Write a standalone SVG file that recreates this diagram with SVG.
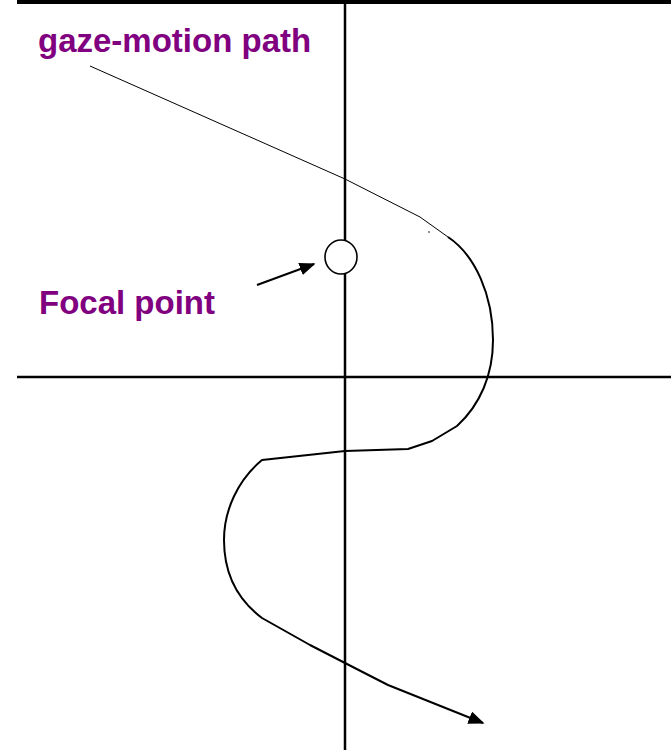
<svg xmlns="http://www.w3.org/2000/svg" width="671" height="750" viewBox="0 0 671 750">
<defs>
<style>
.axis{stroke:#000;stroke-width:2.5;fill:none}
.thin{stroke:#000;stroke-width:1;fill:none}
.path{stroke:#000;stroke-width:2;fill:none;stroke-linejoin:round}
.lbl{font-family:"Liberation Sans",Arial,sans-serif;font-weight:bold;font-size:33px;fill:#800080}
</style>
<marker id="ah" viewBox="0 0 10 10" refX="9" refY="5" markerWidth="8" markerHeight="6.5" markerUnits="strokeWidth" orient="auto" preserveAspectRatio="none">
<path d="M0,0 L10,5 L0,10 Z" fill="#000"/>
</marker>
</defs>
<rect x="17" y="0" width="654" height="4" fill="#000"/>
<g id="axes">
<line class="axis" x1="345" y1="4" x2="345" y2="750"/>
<line class="axis" x1="17" y1="377" x2="671" y2="377"/>
</g>
<g id="connectors">
<polyline class="thin" points="90,66 345,179 420,217 448,237"/>
<circle cx="429" cy="232" r="0.8" fill="#000"/>
<path class="path" marker-end="url(#ah)" d="M448,237 C475,255 493,295 493,340 C493,375 480,405 457,426 L432,441 L408,449 L345,451 L262,460 C238,480 224,510 224,540 C224,575 238,600 262,618 L310,645 L345,663 L388,685 L483,723"/>
<line class="path" x1="257" y1="285" x2="314" y2="264" marker-end="url(#ah)"/>
</g>
<g id="focal">
<ellipse cx="341" cy="257" rx="16" ry="17" fill="#fff" stroke="#000" stroke-width="1.6"/>
</g>
<g id="labels">
<text class="lbl" x="38" y="52">gaze-motion path</text>
<text class="lbl" x="39" y="314">Focal point</text>
</g>
</svg>
